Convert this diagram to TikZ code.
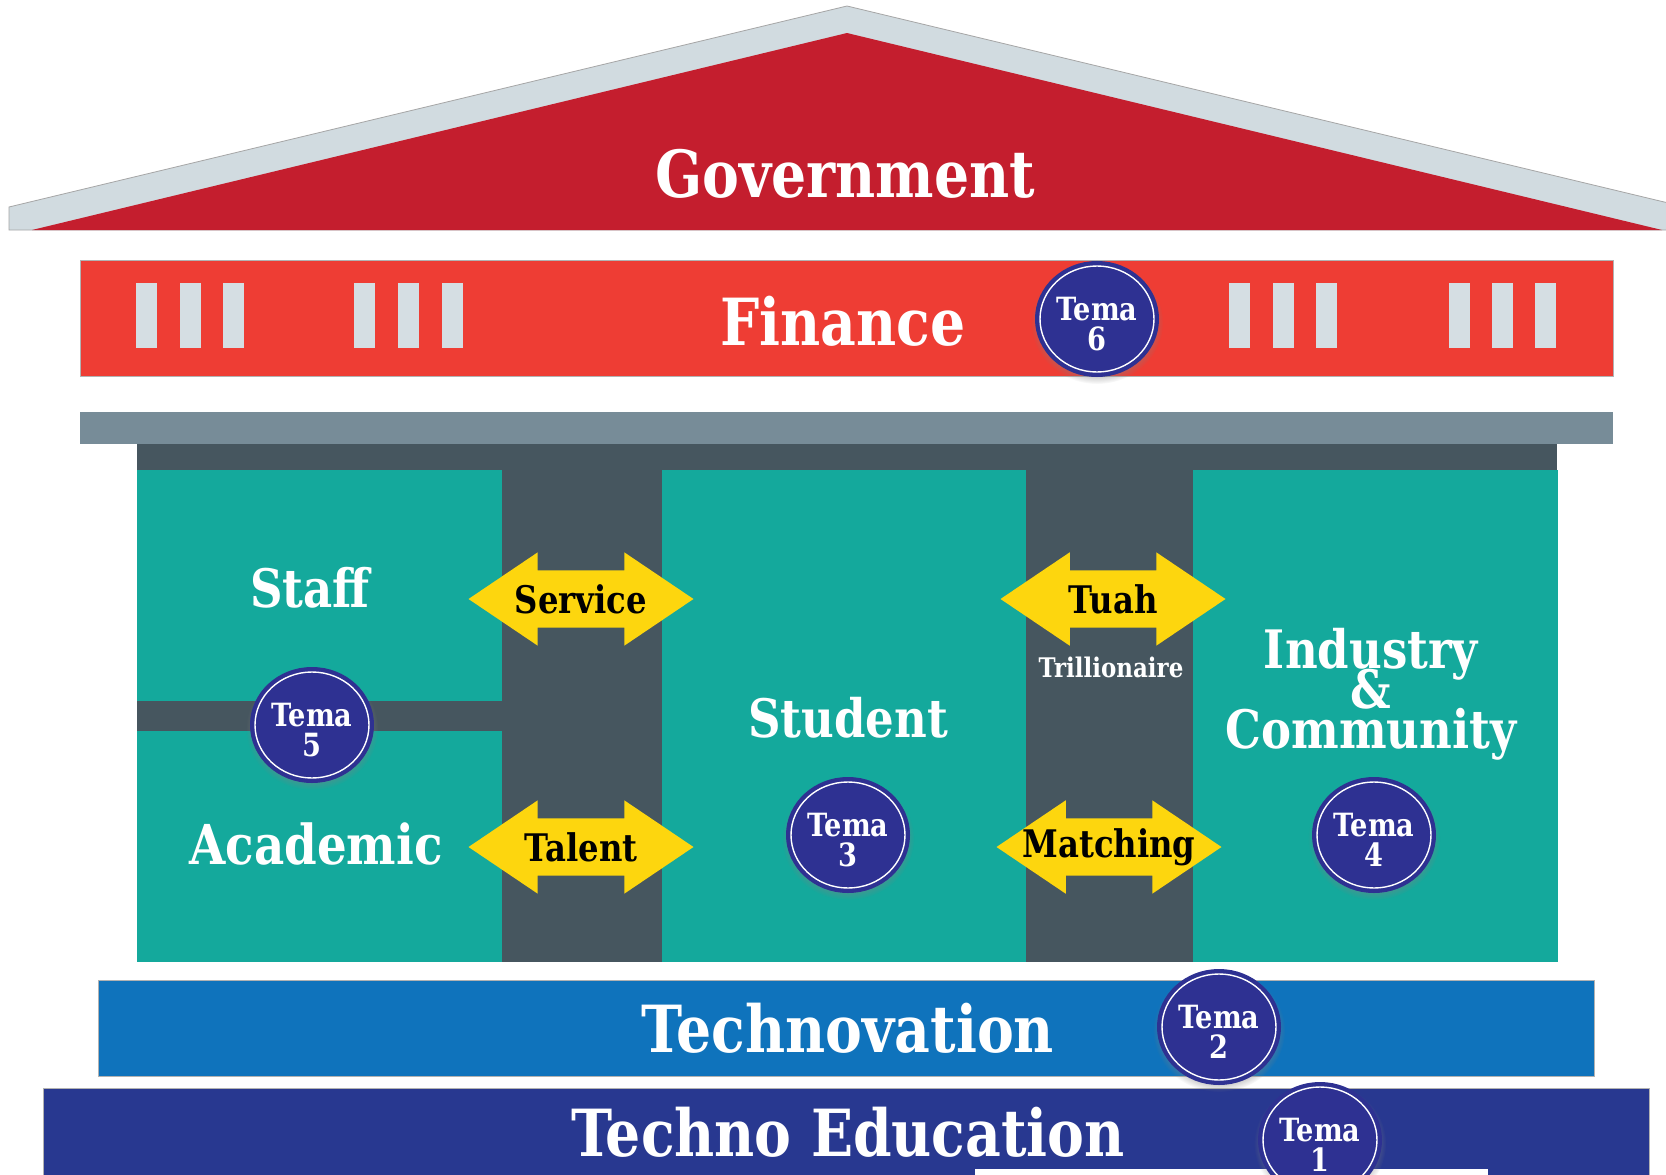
\documentclass[tikz,border=0pt]{standalone}
\usepackage{fontspec}
\setmainfont{DejaVu Serif}[FakeStretch=0.85]
\usepackage{xcolor}
\usepackage{tikz}
\usetikzlibrary{shapes.geometric,shapes.arrows,shadows}
\definecolor{roofGrey}{HTML}{D1DBE0}
\definecolor{roofRed}{HTML}{C41E2E}
\definecolor{financeRed}{HTML}{EE3D34}
\definecolor{windowGrey}{HTML}{D5DEE3}
\definecolor{beamGrey}{HTML}{778C98}
\definecolor{bodyDark}{HTML}{46565F}
\definecolor{teal}{HTML}{14A99C}
\definecolor{arrowYellow}{HTML}{FDD60E}
\definecolor{badgeNavy}{HTML}{2E3192}
\definecolor{technoBlue}{HTML}{0F73BC}
\definecolor{eduBlue}{HTML}{283890}
\newcommand{\tightSkip}{\lineskiplimit=-100pt\relax}
\tikzset{
  roofEdge/.style={fill=roofGrey, draw=black!35, line width=0.8pt},
  bandEdge/.style={draw=black!30, line width=0.8pt},
  windowBar/.style={fill=windowGrey},
  tealBlock/.style={fill=teal},
  bigLabel/.style={text=white, font=\fontsize{65}{70}\selectfont\bfseries},
  blockLabel/.style={text=white, align=center,
    font={\fontsize{53}{40}\selectfont\bfseries\tightSkip}},
  linkArrow/.style={double arrow, fill=arrowYellow, double arrow tip angle=68,
    double arrow head extend=18pt, minimum height=225pt, minimum width=93pt,
    inner xsep=0pt, inner ysep=28.5pt},
  linkText/.style={text=black, font=\fontsize{38}{40}\selectfont\bfseries},
  smallText/.style={text=white, font=\fontsize{27}{28}\selectfont\bfseries},
  temaBadge/.style={ellipse,
    circular drop shadow={shadow xshift=0pt, shadow yshift=-3pt, shadow scale=1.16, opacity=0.45},
    preaction={draw=badgeNavy, line width=10pt},
    fill=badgeNavy, draw=white, line width=1.4pt,
    minimum width=114pt, minimum height=106pt, inner sep=0pt},
  temaText/.style={align=center, text=white, inner sep=0pt,
    font={\fontsize{32}{30}\selectfont\bfseries}}
}

\begin{document}
\begin{tikzpicture}[x=1pt, y=-1pt]
  \useasboundingbox (0,0) rectangle (1666,1175);
  \fill[white] (0,0) rectangle (1666,1175);

  \filldraw[roofEdge] (9,230) -- (9,207) -- (847,6) -- (1685,207) -- (1685,230) -- cycle;
  \fill[roofRed] (32,230) -- (847,33) -- (1662,230) -- cycle;
  \node[bigLabel] (gov) at (845,174) {Government};

  \filldraw[bandEdge, fill=financeRed] (80,260) rectangle (1613,376);
  \foreach \x in {136,180,223,354,398,442,1229,1273,1316,1449,1492,1535}
    \fill[windowBar] (\x,283) rectangle ++(21,65);
  \node[bigLabel] (finance) at (843,321) {Finance};

  \fill[beamGrey] (80,412) rectangle (1613,444);
  \fill[bodyDark] (137,444) rectangle (1557,962);
  \fill[tealBlock] (137,470) rectangle (502,701);
  \fill[tealBlock] (137,731) rectangle (502,962);
  \fill[tealBlock] (662,470) rectangle (1026,962);
  \fill[tealBlock] (1193,470) rectangle (1558,962);

  \filldraw[bandEdge, fill=technoBlue] (98,980) rectangle (1594,1076);
  \filldraw[bandEdge, fill=eduBlue] (43,1088) rectangle (1649,1185);
  \fill[white] (975,1169) rectangle (1488,1185);

  \node[blockLabel] (staff) at (310,588) {Staff};
  \node[blockLabel, font=\fontsize{55}{41}\selectfont\bfseries] (academic) at (316,844) {Academic};
  \node[blockLabel] (student) at (848,718) {Student};
  \node[blockLabel] (industry) at (1371,694) {Industry\\\&\\Community};
  \node[bigLabel] (technovation) at (848,1028) {Technovation};
  \node[bigLabel] (education) at (848,1132) {Techno Education};

  \node[linkArrow] (service) at (581,599) {};
  \node[linkText] (serviceText) at (service) {Service};
  \node[linkArrow] (talent) at (581,847) {};
  \node[linkText] (talentText) at (talent) {Talent};
  \node[linkArrow] (tuah) at (1113,599) {};
  \node[linkText] (tuahText) at (tuah) {Tuah};
  \node[smallText] (trillion) at (1111,667) {Trillionaire};
  \node[linkArrow] (matching) at (1109,847) {};
  \node[linkText] (matchingText) at (matching) {Matching};

  \foreach \n/\x/\y in {6/1097/319, 5/312/725, 3/848/835, 4/1374/835, 2/1219/1027, 1/1320/1140} {
    \node[temaBadge] (tema\n) at (\x,\y) {};
    \node[temaText] (temaText\n) at ([yshift=-5pt]tema\n.center) {Tema\\\n};
  }
\end{tikzpicture}
\end{document}
